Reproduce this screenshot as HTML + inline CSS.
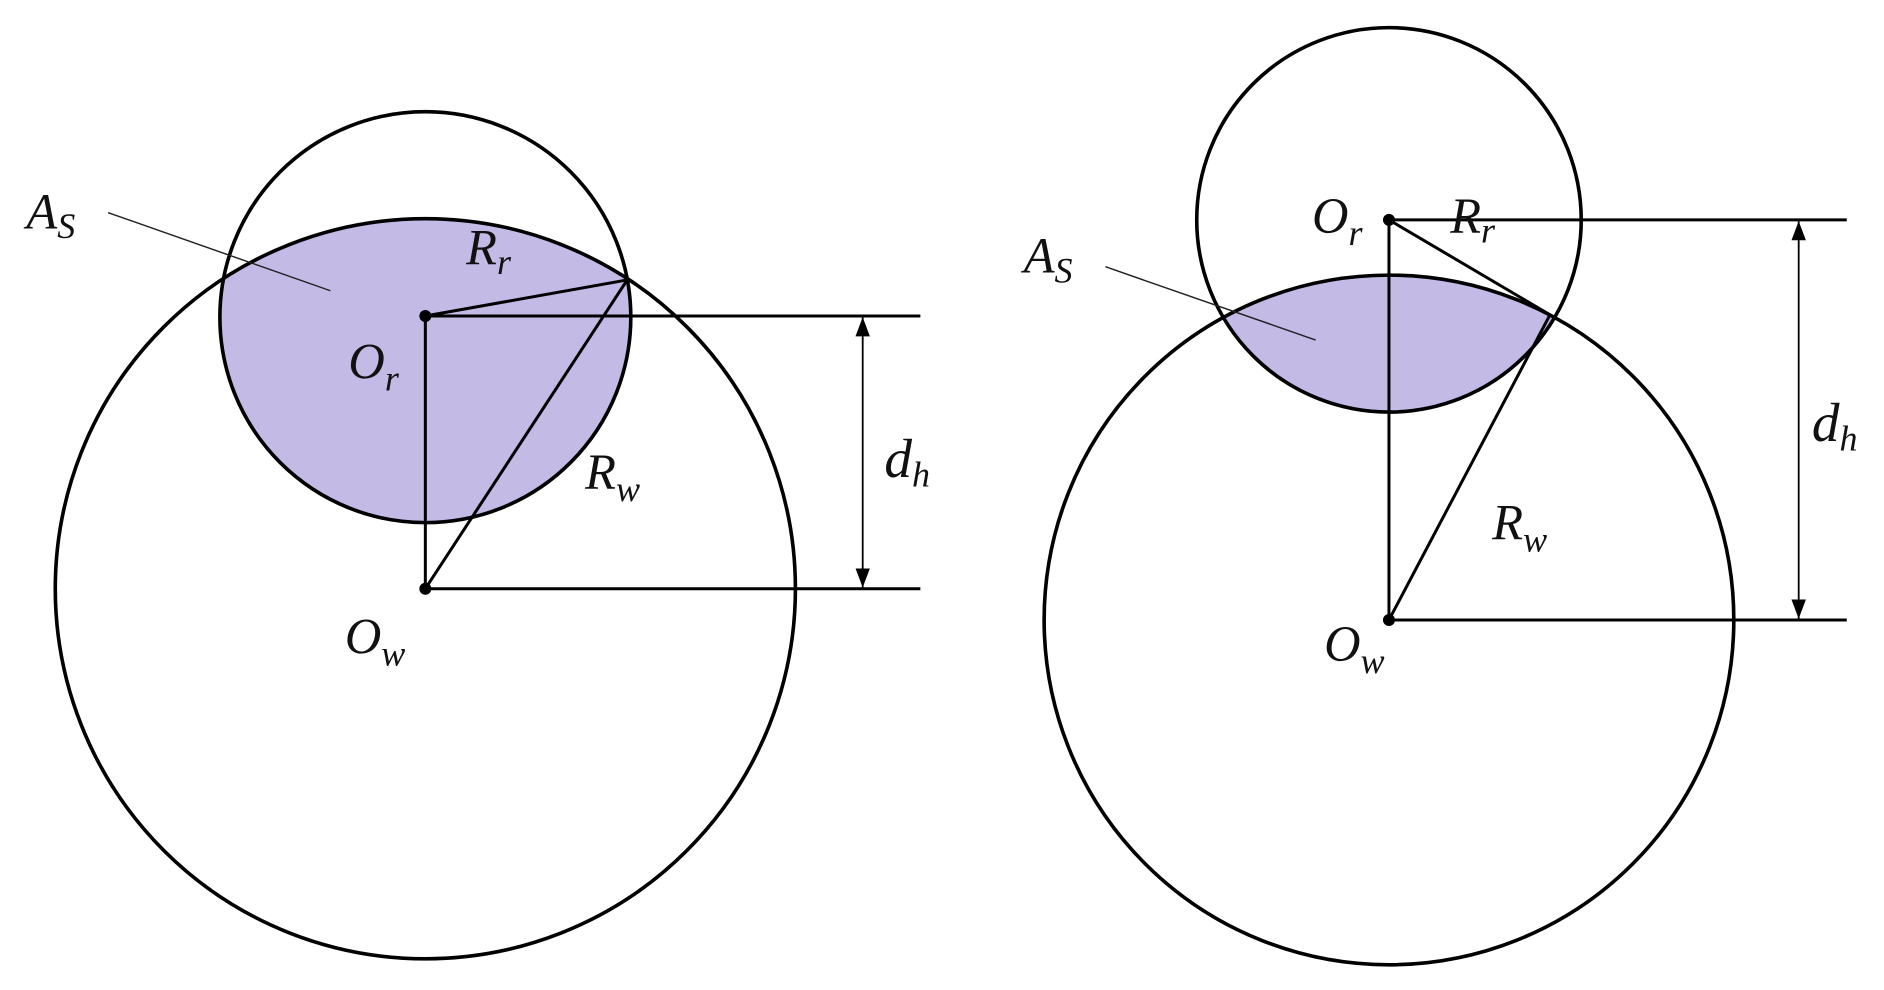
<!DOCTYPE html>
<html><head><meta charset="utf-8"><style>
html,body{margin:0;padding:0;background:#fff;}
svg{display:block;}
text{font-family:"Liberation Serif","DejaVu Serif",serif;font-style:italic;fill:#111;}
</style></head><body>
<svg width="1884" height="990" viewBox="0 0 1568 824" preserveAspectRatio="none" xmlns="http://www.w3.org/2000/svg" font-family="Liberation Serif, serif">
<defs>
<clipPath id="c1"><circle cx="354" cy="264" r="171"/></clipPath>
<clipPath id="c2"><circle cx="1156" cy="183" r="160"/></clipPath>
<marker id="ar" markerWidth="16" markerHeight="12" refX="16" refY="6" orient="auto-start-reverse" markerUnits="userSpaceOnUse" viewBox="0 0 16 12"><path d="M0,0 L16,6 L0,12 Z" fill="#000"/></marker>
</defs>
<!-- LEFT -->
<circle cx="354" cy="490" r="308" fill="#c3bae6" clip-path="url(#c1)"/>
<g fill="none" stroke="#000" stroke-width="3">
<circle cx="354" cy="490" r="308"/>
<circle cx="354" cy="264" r="171"/>
</g>
<g stroke="#000" stroke-width="2.5">
<line x1="354" y1="263" x2="522" y2="233"/>
<line x1="354" y1="490" x2="522" y2="233"/>
<line x1="354" y1="263" x2="354" y2="490"/>
<line x1="354" y1="263" x2="766" y2="263"/>
<line x1="354" y1="490" x2="766" y2="490"/>
</g>
<line x1="718" y1="264" x2="718" y2="489" stroke="#000" stroke-width="1.5" marker-start="url(#ar)" marker-end="url(#ar)"/>
<line x1="90" y1="177" x2="275" y2="242" stroke="#222" stroke-width="1.2"/>
<circle cx="354" cy="263" r="5"/><circle cx="354" cy="490" r="5"/>
<text x="22" y="190" font-size="42" font-style="italic">A<tspan font-size="30" dy="8">S</tspan></text>
<text x="388" y="220" font-size="42" font-style="italic">R<tspan font-size="30" dy="8">r</tspan></text>
<text x="290" y="315" font-size="42" font-style="italic">O<tspan font-size="30" dy="10">r</tspan></text>
<text x="487" y="407" font-size="42" font-style="italic">R<tspan font-size="30" dy="10">w</tspan></text>
<text x="736" y="397" font-size="46" font-style="italic">d<tspan font-size="30" dy="8">h</tspan></text>
<text x="287" y="544" font-size="42" font-style="italic">O<tspan font-size="30" dy="10">w</tspan></text>
<!-- RIGHT -->
<circle cx="1156" cy="516" r="287" fill="#c3bae6" clip-path="url(#c2)"/>
<g fill="none" stroke="#000" stroke-width="3">
<circle cx="1156" cy="516" r="287"/>
<circle cx="1156" cy="183" r="160"/>
</g>
<g stroke="#000" stroke-width="2.5">
<line x1="1156" y1="183" x2="1290" y2="262"/>
<line x1="1156" y1="516" x2="1290" y2="262"/>
<line x1="1156" y1="183" x2="1156" y2="516"/>
<line x1="1156" y1="183" x2="1537" y2="183"/>
<line x1="1156" y1="516" x2="1537" y2="516"/>
</g>
<line x1="1497" y1="184" x2="1497" y2="515" stroke="#000" stroke-width="1.5" marker-start="url(#ar)" marker-end="url(#ar)"/>
<line x1="920" y1="222" x2="1095" y2="283" stroke="#222" stroke-width="1.2"/>
<circle cx="1156" cy="183" r="5"/><circle cx="1156" cy="516" r="5"/>
<text x="852" y="227" font-size="42" font-style="italic">A<tspan font-size="30" dy="8">S</tspan></text>
<text x="1092" y="194" font-size="42" font-style="italic">O<tspan font-size="30" dy="10">r</tspan></text>
<text x="1207" y="194" font-size="42" font-style="italic">R<tspan font-size="30" dy="8">r</tspan></text>
<text x="1508" y="367" font-size="46" font-style="italic">d<tspan font-size="30" dy="8">h</tspan></text>
<text x="1242" y="449" font-size="42" font-style="italic">R<tspan font-size="30" dy="10">w</tspan></text>
<text x="1102" y="550" font-size="42" font-style="italic">O<tspan font-size="30" dy="10">w</tspan></text>
</svg>
</body></html>
